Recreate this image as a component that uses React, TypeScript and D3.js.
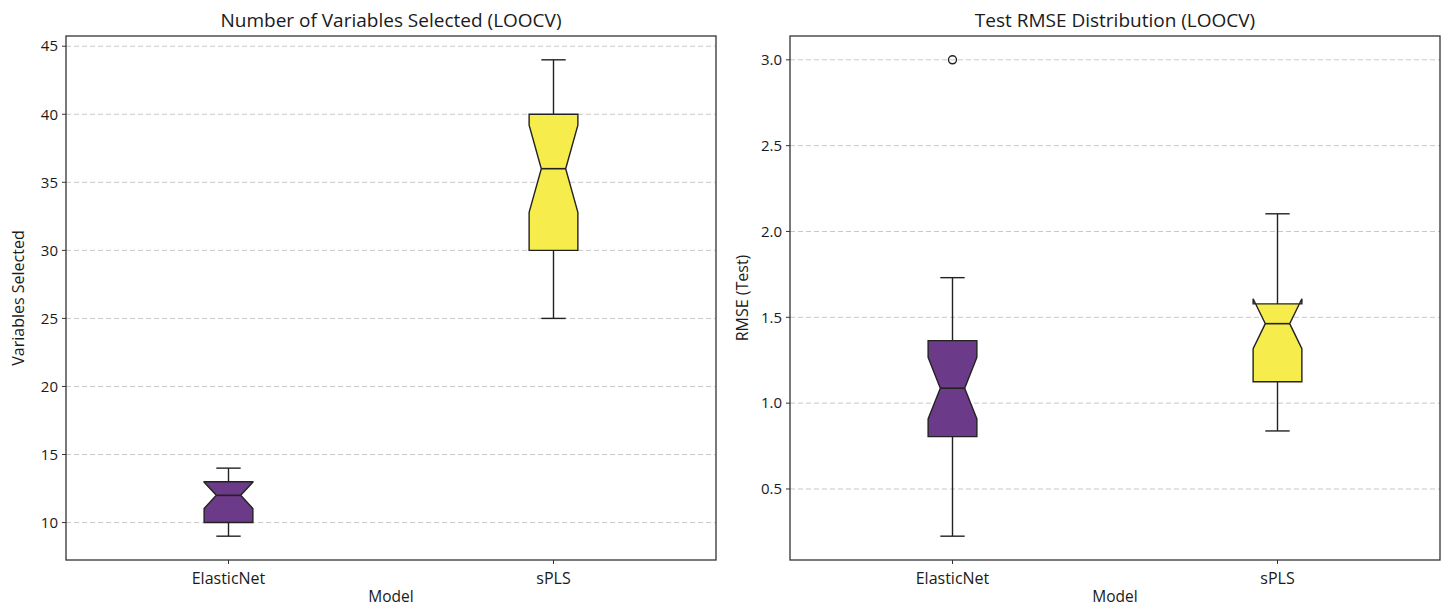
import React from "react";
import * as d3 from "d3";

// ---- data (summary statistics) ----
const models = ["ElasticNet", "sPLS"];
const nSamples = 24;

// Panel 1: number of variables selected
const varsWhiskerLow = [9, 25];
const varsQ1 = [10, 30];
const varsMedian = [12, 36];
const varsQ3 = [13, 40];
const varsWhiskerHigh = [14, 44];
const varsOutliers: number[][] = [[], []];
const varsTicks = [10, 15, 20, 25, 30, 35, 40, 45];

// Panel 2: test RMSE
const rmseWhiskerLow = [0.225, 0.838];
const rmseQ1 = [0.805, 1.125];
const rmseMedian = [1.087, 1.463];
const rmseQ3 = [1.364, 1.578];
const rmseWhiskerHigh = [1.731, 2.103];
const rmseOutliers: number[][] = [[3.0], []];
const rmseTicks = [0.5, 1.0, 1.5, 2.0, 2.5, 3.0];

const fillColors = ["#6b3a88", "#f6ec4b"];

const W = 1448;
const H = 607;
const TOP = 36;
const BOTTOM = 560;
const FONT = "'Open Sans', 'Noto Sans', sans-serif";

type PanelProps = {
  x0: number;
  x1: number;
  title: string;
  ylabel: string;
  wLow: number[];
  q1: number[];
  med: number[];
  q3: number[];
  wHigh: number[];
  outliers: number[][];
  ticks: number[];
  tickFmt: (v: number) => string;
};

function Panel(p: PanelProps) {
  const allVals = [...p.wLow, ...p.wHigh, ...p.outliers.flat()];
  const lo = d3.min(allVals) as number;
  const hi = d3.max(allVals) as number;
  const pad = (hi - lo) * 0.05;
  const y = d3.scaleLinear().domain([lo - pad, hi + pad]).range([BOTTOM, TOP]);
  const x = d3.scaleLinear().domain([0.5, 2.5]).range([p.x0, p.x1]);
  const widthData = 0.15;

  const boxes = models.map((m, i) => {
    const pos = i + 1;
    const bl = x(pos - widthData / 2);
    const br = x(pos + widthData / 2);
    const cl = x(pos - widthData / 4);
    const cr = x(pos + widthData / 4);
    const iqr = p.q3[i] - p.q1[i];
    const nh = (1.57 * iqr) / Math.sqrt(nSamples);
    const mlo = p.med[i] - nh;
    const mhi = p.med[i] + nh;
    const bx = [bl, br, br, cr, br, br, bl, bl, cl, bl, bl];
    const by = [p.q1[i], p.q1[i], mlo, p.med[i], mhi, p.q3[i], p.q3[i], mhi, p.med[i], mlo, p.q1[i]];
    const path = d3.line()(bx.map((vx, k) => [vx, y(by[k])] as [number, number])) + "Z";
    const cx = x(pos);
    return (
      <g key={m}>
        <line x1={cx} x2={cx} y1={y(p.q1[i])} y2={y(p.wLow[i])} stroke="#222" strokeWidth={1.4} />
        <line x1={cx} x2={cx} y1={y(p.q3[i])} y2={y(p.wHigh[i])} stroke="#222" strokeWidth={1.4} />
        <line x1={cl} x2={cr} y1={y(p.wLow[i])} y2={y(p.wLow[i])} stroke="#222" strokeWidth={1.4} />
        <line x1={cl} x2={cr} y1={y(p.wHigh[i])} y2={y(p.wHigh[i])} stroke="#222" strokeWidth={1.4} />
        <path d={path} fill={fillColors[i]} stroke="#222" strokeWidth={1.4} strokeLinejoin="miter" />
        <line x1={cl} x2={cr} y1={y(p.med[i])} y2={y(p.med[i])} stroke="#222" strokeWidth={1.6} />
        {p.outliers[i].map((o, k) => (
          <circle key={k} cx={cx} cy={y(o)} r={4} fill="none" stroke="#222" strokeWidth={1.4} />
        ))}
      </g>
    );
  });

  return (
    <g>
      {p.ticks.map((t) => (
        <g key={t}>
          <line x1={p.x0} x2={p.x1} y1={y(t)} y2={y(t)} stroke="#c8c8c8" strokeWidth={1} strokeDasharray="5,3" />
          <line x1={p.x0 - 4} x2={p.x0} y1={y(t)} y2={y(t)} stroke="#333" strokeWidth={1} />
          <text x={p.x0 - 8} y={y(t)} dy="0.35em" textAnchor="end" fontSize={15} fill="#1a1a1a" fontFamily={FONT}>
            {p.tickFmt(t)}
          </text>
        </g>
      ))}
      {boxes}
      <rect x={p.x0} y={TOP} width={p.x1 - p.x0} height={BOTTOM - TOP} fill="none" stroke="#333" strokeWidth={1.3} />
      {models.map((m, i) => (
        <g key={m}>
          <line x1={x(i + 1)} x2={x(i + 1)} y1={BOTTOM} y2={BOTTOM + 4} stroke="#333" strokeWidth={1} />
          <text x={x(i + 1)} y={BOTTOM + 18} dy="0.35em" textAnchor="middle" fontSize={16} fill="#1a1a1a" fontFamily={FONT}>
            {m}
          </text>
        </g>
      ))}
      <text x={(p.x0 + p.x1) / 2} y={BOTTOM + 37} dy="0.35em" textAnchor="middle" fontSize={15.5} fill="#1a1a1a" fontFamily={FONT}>
        Model
      </text>
      <text
        transform={`translate(${p.x0 - 48},${(TOP + BOTTOM) / 2}) rotate(-90)`}
        textAnchor="middle"
        dy="0.35em"
        fontSize={16}
        fill="#1a1a1a"
        fontFamily={FONT}
      >
        {p.ylabel}
      </text>
      <text x={(p.x0 + p.x1) / 2} y={TOP - 16} dy="0.35em" textAnchor="middle" fontSize={19} fill="#1a1a1a" fontFamily={FONT}>
        {p.title}
      </text>
    </g>
  );
}

export default function App() {
  return (
    <svg width={W} height={H} style={{ position: "absolute", left: 0, top: 0, background: "#fff" }}>
      <rect width={W} height={H} fill="#fff" />
      <Panel
        x0={66}
        x1={716}
        title="Number of Variables Selected (LOOCV)"
        ylabel="Variables Selected"
        wLow={varsWhiskerLow}
        q1={varsQ1}
        med={varsMedian}
        q3={varsQ3}
        wHigh={varsWhiskerHigh}
        outliers={varsOutliers}
        ticks={varsTicks}
        tickFmt={(v) => d3.format("d")(v)}
      />
      <Panel
        x0={790}
        x1={1440}
        title="Test RMSE Distribution (LOOCV)"
        ylabel="RMSE (Test)"
        wLow={rmseWhiskerLow}
        q1={rmseQ1}
        med={rmseMedian}
        q3={rmseQ3}
        wHigh={rmseWhiskerHigh}
        outliers={rmseOutliers}
        ticks={rmseTicks}
        tickFmt={(v) => d3.format(".1f")(v)}
      />
    </svg>
  );
}
